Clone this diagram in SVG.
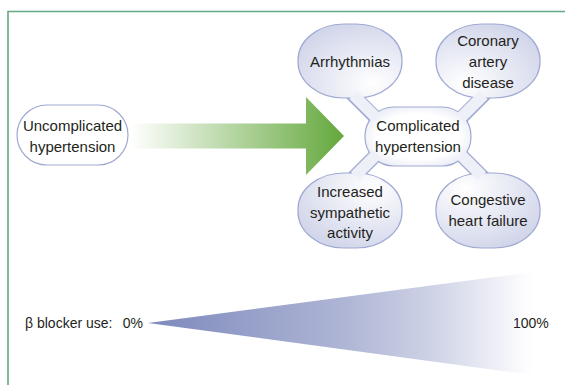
<svg xmlns="http://www.w3.org/2000/svg" width="565" height="385" viewBox="0 0 565 385">
<style>
.t{font-family:"Liberation Sans",Arial,sans-serif;font-size:15px;fill:#231f20;text-anchor:middle}
.b{font-family:"Liberation Sans",Arial,sans-serif;font-size:14px;fill:#231f20}
.nd{stroke:#a0a9d2;stroke-width:1.2}
.co{stroke:#a0a9d2;stroke-width:14;fill:none}
.ci{stroke:#eef0f8;stroke-width:11.6;fill:none}
</style>
<defs>
<linearGradient id="ga" gradientUnits="userSpaceOnUse" x1="131" y1="0" x2="344" y2="0">
<stop offset="0" stop-color="#ffffff"/>
<stop offset="1" stop-color="#64a83d"/>
</linearGradient>
<linearGradient id="gt" gradientUnits="userSpaceOnUse" x1="148" y1="0" x2="533" y2="0">
<stop offset="0" stop-color="#7d89bc"/>
<stop offset="0.5" stop-color="#adb4d4"/>
<stop offset="0.75" stop-color="#d0d4e7"/>
<stop offset="0.97" stop-color="#fbfbfd"/>
<stop offset="1" stop-color="#ffffff"/>
</linearGradient>
<radialGradient id="gbr" cx="0.72" cy="0.8" r="0.85">
<stop offset="0" stop-color="#ffffff"/>
<stop offset="1" stop-color="#d2d6ea"/>
</radialGradient>
<radialGradient id="gbl" cx="0.28" cy="0.8" r="0.85">
<stop offset="0" stop-color="#ffffff"/>
<stop offset="1" stop-color="#d2d6ea"/>
</radialGradient>
<radialGradient id="gtr" cx="0.72" cy="0.2" r="0.85">
<stop offset="0" stop-color="#ffffff"/>
<stop offset="1" stop-color="#d2d6ea"/>
</radialGradient>
<radialGradient id="gtl" cx="0.28" cy="0.2" r="0.85">
<stop offset="0" stop-color="#ffffff"/>
<stop offset="1" stop-color="#d2d6ea"/>
</radialGradient>
<radialGradient id="gc" cx="0.5" cy="0.5" r="0.7">
<stop offset="0.55" stop-color="#ffffff"/>
<stop offset="1" stop-color="#dadeef"/>
</radialGradient>
</defs>

<path d="M8,385 V11.5 H565" fill="none" stroke="#66a883" stroke-width="1.6"/>

<g id="connectors">
<line class="co" x1="349" y1="91" x2="380" y2="122"/>
<line class="co" x1="488" y1="91" x2="457" y2="122"/>
<line class="co" x1="351" y1="180" x2="380" y2="151"/>
<line class="co" x1="486" y1="180" x2="457" y2="151"/>
</g>

<g id="arrow">
<path d="M131,123.5 H306 V97 L344,136 L306,175 V148.5 H131 Z" fill="url(#ga)"/>
</g>

<g id="node-uncomplicated">
<rect class="nd" x="17" y="105" width="111" height="60" rx="30" ry="30" fill="#ffffff"/>
<text class="t" x="72.5" y="131">Uncomplicated</text>
<text class="t" x="72.5" y="152">hypertension</text>
</g>

<g id="node-arrhythmias">
<rect class="nd" x="298" y="24" width="104" height="74" rx="46" ry="36" fill="url(#gbr)"/>
<text class="t" x="350" y="67">Arrhythmias</text>
</g>

<g id="node-coronary">
<rect class="nd" x="436" y="24" width="104" height="74" rx="46" ry="36" fill="url(#gbl)"/>
<text class="t" x="488" y="46">Coronary</text>
<text class="t" x="488" y="67">artery</text>
<text class="t" x="488" y="88">disease</text>
</g>

<g id="node-increased">
<rect class="nd" x="298" y="173" width="104" height="75" rx="46" ry="36" fill="url(#gtr)"/>
<text class="t" x="350" y="197">Increased</text>
<text class="t" x="350" y="218">sympathetic</text>
<text class="t" x="350" y="238">activity</text>
</g>

<g id="node-congestive">
<rect class="nd" x="436" y="173" width="104" height="75" rx="46" ry="36" fill="url(#gtl)"/>
<text class="t" x="488" y="205">Congestive</text>
<text class="t" x="488" y="226">heart failure</text>
</g>

<g id="node-complicated">
<rect class="nd" x="365" y="107" width="106" height="59" rx="29" ry="29" fill="url(#gc)"/>
<text class="t" x="418" y="131">Complicated</text>
<text class="t" x="418" y="152">hypertension</text>
</g>

<g id="connector-joins">
<line class="ci" x1="353.5" y1="95" x2="376.5" y2="118"/>
<line class="ci" x1="483.5" y1="95" x2="460.5" y2="118"/>
<line class="ci" x1="355" y1="176" x2="376.5" y2="154.5"/>
<line class="ci" x1="482" y1="176" x2="460.5" y2="154.5"/>
</g>

<g id="blocker-scale">
<path d="M148,323 L533,272 L533,375 Z" fill="url(#gt)"/>
<text class="b" x="25" y="328">β blocker use:</text>
<text class="b" x="143" y="328" text-anchor="end">0%</text>
<text class="b" x="513" y="328">100%</text>
</g>
</svg>
